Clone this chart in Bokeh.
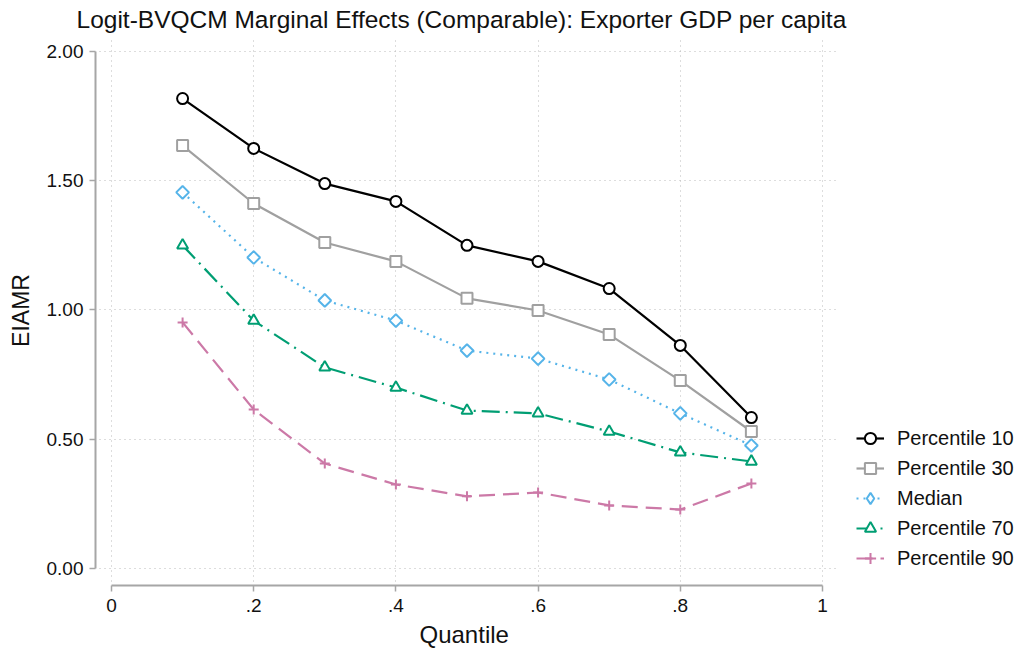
import math
from bokeh.plotting import figure
from bokeh.models import Range1d, FixedTicker, Legend, LegendItem, PrintfTickFormatter, Title
from bokeh.embed import file_html
from bokeh.resources import INLINE

quantiles = [0.1, 0.2, 0.3, 0.4, 0.5, 0.6, 0.7, 0.8, 0.9]
p10 = [1.818, 1.625, 1.489, 1.420, 1.250, 1.188, 1.083, 0.863, 0.584]
p30 = [1.636, 1.412, 1.261, 1.188, 1.045, 0.998, 0.905, 0.727, 0.530]
median = [1.455, 1.203, 1.037, 0.959, 0.843, 0.812, 0.731, 0.600, 0.476]
p70 = [1.250, 0.959, 0.778, 0.700, 0.611, 0.600, 0.530, 0.449, 0.414]
p90 = [0.952, 0.615, 0.406, 0.325, 0.279, 0.294, 0.244, 0.228, 0.329]

x_ticks = [0, 0.2, 0.4, 0.6, 0.8, 1]
x_tick_labels = ["0", ".2", ".4", ".6", ".8", "1"]
y_ticks = [0, 0.5, 1.0, 1.5, 2.0]

FONT = "Liberation Sans"

# frame spans to the right edge so the legend (drawn in the frame) is not clipped;
# data 0..1 occupies the left part, as in the reference
p = figure(frame_width=922, frame_height=550, output_backend="svg", toolbar_location=None,
           x_range=Range1d(-0.0225, 1.2743), y_range=Range1d(-0.0658, 2.0619),
           min_border_left=95, min_border_right=0, min_border_top=35, min_border_bottom=10)

p.title.text = "Logit-BVQCM Marginal Effects (Comparable): Exporter GDP per capita"
p.title.align = "left"
p.title.offset = -19
p.title.text_font = FONT
p.title.text_font_size = "24.5px"
p.title.text_font_style = "normal"
p.title.text_color = "#111111"
p.title.standoff = 6

p.outline_line_color = None
p.background_fill_color = "white"
p.border_fill_color = "white"

for g in (p.xgrid, p.ygrid):
    g.grid_line_color = "#bbbbbb"
    g.grid_line_dash = "1 4"
    g.grid_line_width = 1
p.xgrid.ticker = FixedTicker(ticks=x_ticks)
p.ygrid.ticker = FixedTicker(ticks=y_ticks)
p.xgrid.cross_bounds = (-0.05, 2.046)
p.ygrid.cross_bounds = (-0.017, 1.02)

p.xaxis.ticker = FixedTicker(ticks=x_ticks)
p.xaxis.major_label_overrides = {t: l for t, l in zip(x_ticks, x_tick_labels)}
p.yaxis.ticker = FixedTicker(ticks=y_ticks)
p.yaxis.formatter = PrintfTickFormatter(format="%.2f")
p.xaxis.bounds = (0, 1)
p.yaxis.bounds = (0, 2)

for ax in (p.xaxis, p.yaxis):
    ax.axis_line_color = "#a6a6a6"
    ax.axis_line_width = 2
    ax.major_tick_line_color = "#a6a6a6"
    ax.major_tick_line_width = 1.5
    ax.major_tick_out = 6
    ax.major_tick_in = 0
    ax.minor_tick_line_color = None
    ax.major_label_text_font = FONT
    ax.major_label_text_font_size = "19px"
    ax.major_label_text_color = "#111111"
    ax.major_label_standoff = 6
    ax.axis_label_text_font = FONT
    ax.axis_label_text_font_size = "23px"
    ax.axis_label_text_font_style = "normal"
    ax.axis_label_text_color = "#111111"
p.xaxis.major_label_standoff = 7
p.yaxis.axis_label = "EIAMR"
p.yaxis.axis_label_standoff = 10

xlabel = Title(text="Quantile", align="left", offset=324, text_font=FONT,
               text_font_size="24px", text_font_style="normal", text_color="#111111",
               standoff=8)
p.add_layout(xlabel, "below")

series = [
    ("Percentile 10", p10, "#000000", "solid", "circle"),
    ("Percentile 30", p30, "#a0a0a0", "solid", "square"),
    ("Median", median, "#56b4e9", "2 5", "diamond"),
    ("Percentile 70", p70, "#009e73", "18 6 2 6", "triangle"),
    ("Percentile 90", p90, "#cc79a7", "16 8", "cross"),
]

items = []
for name, vals, color, dash, marker in series:
    ln = p.line(quantiles, vals, line_color=color, line_width=2.2, line_dash=dash)
    if marker == "cross":
        mk = p.scatter(quantiles, vals, marker="cross", size=10, line_color=color, line_width=2)
        rs = [ln, mk]
    elif marker == "diamond":
        mk = p.scatter(quantiles, vals, marker="square", angle=math.pi / 4, size=9,
                       line_color=color, fill_color="white", line_width=2)
        # zero-size twin: invisible in the plot, draws a diamond key in the legend
        proxy = p.scatter(quantiles, vals, marker="diamond", size=0, line_color=color,
                          fill_color="white", line_width=2)
        rs = [ln, proxy]
    else:
        mk = p.scatter(quantiles, vals, marker=marker, size=11, line_color=color,
                       fill_color="white", line_width=2)
        rs = [ln, mk]
    items.append(LegendItem(label=name, renderers=rs))

legend = Legend(items=items, location=(761, 12), orientation="vertical")
legend.border_line_color = None
legend.background_fill_alpha = 0
legend.label_text_font = FONT
legend.label_text_font_size = "20px"
legend.label_text_color = "#111111"
legend.glyph_width = 28
legend.glyph_height = 30
legend.label_height = 30
legend.label_standoff = 13
legend.spacing = 0
legend.padding = 0
legend.margin = 0
p.add_layout(legend, "center")

open("out.html", "w").write(file_html(p, INLINE))
